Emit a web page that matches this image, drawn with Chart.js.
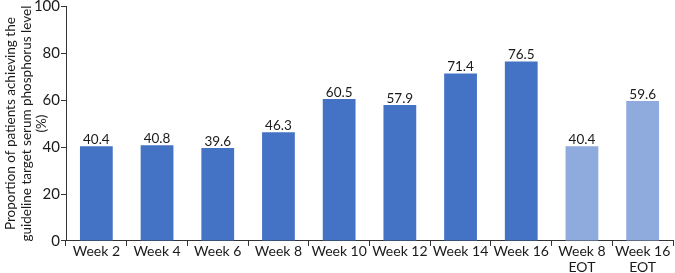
<!DOCTYPE html>
<html><head><meta charset="utf-8">
<script src="https://cdn.jsdelivr.net/npm/chart.js@4/dist/chart.umd.min.js"></script>
<style>html,body{margin:0;padding:0;background:#fff}#wrap{width:675px;height:273px}</style>
</head><body><div id="wrap"><canvas id="c"></canvas></div>
<script>
const categories = [["Week 2"],["Week 4"],["Week 6"],["Week 8"],["Week 10"],["Week 12"],["Week 14"],["Week 16"],["Week 8","EOT"],["Week 16","EOT"]];
const values = [40.4, 40.8, 39.6, 46.3, 60.5, 57.9, 71.4, 76.5, 40.4, 59.6];
const barColors = ["#4472C4","#4472C4","#4472C4","#4472C4","#4472C4","#4472C4","#4472C4","#4472C4","#8FAADC","#8FAADC"];
const yTicks = [0, 20, 40, 60, 80, 100];
const yTitle = ["Proportion of patients achieving the","guideline target serum phosphorus level","(%)"];
const FONT = 'Lato, "Open Sans", sans-serif';

const labelPlugin = {
  id: 'vlabels',
  afterDatasetsDraw(chart) {
    const ctx = chart.ctx;
    const meta = chart.getDatasetMeta(0);
    ctx.save();
    ctx.font = '13.5px ' + FONT;
    ctx.fillStyle = '#1a1a1a';
    ctx.textAlign = 'center';
    ctx.textBaseline = 'bottom';
    meta.data.forEach((el, i) => {
      ctx.fillText(values[i].toFixed(1), el.x, el.y);
    });
    ctx.restore();
  }
};

new Chart(document.getElementById('c'), {
  type: 'bar',
  data: { labels: categories, datasets: [{ data: values, backgroundColor: barColors, borderWidth: 0, categoryPercentage: 1, barPercentage: 0.54 }] },
  options: {
    responsive: true, maintainAspectRatio: false, animation: false,
    layout: { padding: { top: 0, right: 2, bottom: 0, left: 0 } },
    plugins: { legend: { display: false }, tooltip: { enabled: false } },
    scales: {
      x: {
        grid: { drawOnChartArea: false, drawTicks: true, tickLength: 5, color: '#333' },
        border: { display: true, color: '#333', width: 1 },
        ticks: { color: '#1a1a1a', font: { size: 14, family: FONT, lineHeight: 1.18 }, padding: -3, maxRotation: 0, autoSkip: false }
      },
      y: {
        min: 0, max: 100,
        afterBuildTicks(axis) { axis.ticks = yTicks.map(v => ({ value: v })); },
        afterFit(axis) { axis.width = 66; },
        grid: { drawOnChartArea: false, drawTicks: true, tickLength: 5, color: '#333' },
        border: { display: true, color: '#333', width: 1 },
        ticks: { color: '#1a1a1a', font: { size: 15, family: FONT, lineHeight: 0.7 }, padding: 1 },
        title: { display: true, text: yTitle, color: '#1a1a1a', font: { size: 13.5, family: FONT, lineHeight: 1.15 }, padding: { top: 3, bottom: 0 } }
      }
    }
  },
  plugins: [labelPlugin]
});
</script></body></html>
